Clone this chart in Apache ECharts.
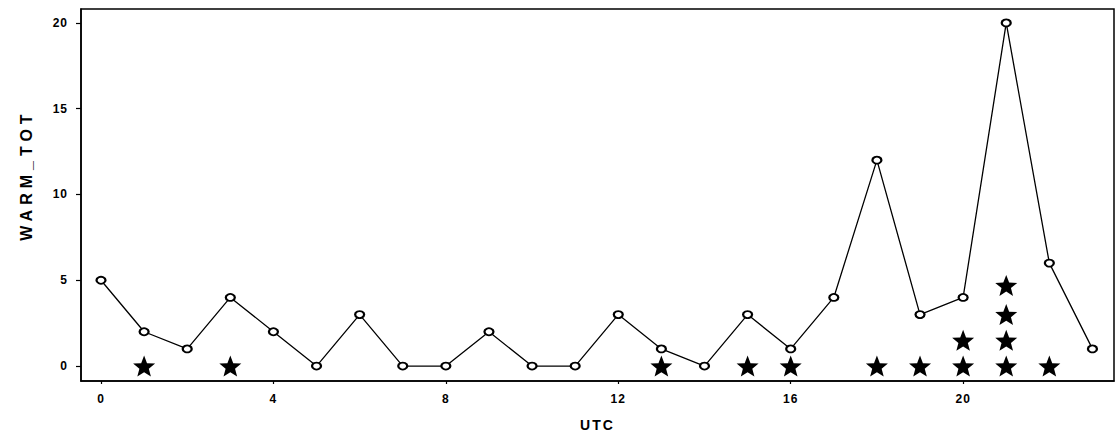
<!DOCTYPE html>
<html>
<head>
<meta charset="utf-8">
<script src="https://cdn.jsdelivr.net/npm/echarts@6/dist/echarts.min.js"></script>
<style>
  html, body { margin: 0; padding: 0; background: #fff; }
  #chart { width: 1117px; height: 437px; }
</style>
</head>
<body>
<div id="chart"></div>
<script>
// hourly totals
const hours = [0, 1, 2, 3, 4, 5, 6, 7, 8, 9, 10, 11, 12, 13, 14, 15, 16, 17, 18, 19, 20, 21, 22, 23];
const warmTot = [5, 2, 1, 4, 2, 0, 3, 0, 0, 2, 0, 0, 3, 1, 0, 3, 1, 4, 12, 3, 4, 20, 6, 1];

// star markers (hour, level)
const starHours = [1, 3, 13, 15, 16, 18, 19, 20, 20, 21, 21, 21, 21, 22];
const starLevels = [0, 0, 0, 0, 0, 0, 0, 0, 1.5, 0, 1.5, 3, 4.7, 0];

// tick labels
const xTicks = [0, 4, 8, 12, 16, 20];
const yTicks = [0, 5, 10, 15, 20];

const starPath = 'path://M50,0L62.6,32.6L97.6,34.5L70.4,56.6L79.4,90.5L50,71.5L20.6,90.5L29.6,56.6L2.4,34.5L37.4,32.6Z';
const FONT = 'Liberation Sans, Arial, sans-serif';

const chart = echarts.init(document.getElementById('chart'), null, { renderer: 'svg' });

const option = {
  animation: false,
  backgroundColor: '#fff',
  grid: {
    left: 81,
    right: 3,
    top: 9,
    bottom: 55,
    show: true,
    borderColor: '#000',
    borderWidth: 1.5
  },
  xAxis: {
    type: 'value',
    min: -0.464,
    max: 23.5,
    name: 'UTC',
    nameLocation: 'middle',
    nameGap: 37,
    nameTextStyle: { color: '#000', fontFamily: FONT, fontWeight: 'bold', fontSize: 14 },
    axisLine: { show: true, onZero: false, lineStyle: { color: '#000', width: 1.5 } },
    axisTick: { show: true, length: 3, customValues: xTicks, lineStyle: { color: '#000', width: 1.2 } },
    axisLabel: { customValues: xTicks, margin: 12, color: '#000', fontFamily: FONT, fontWeight: 'bold', fontSize: 12 },
    splitLine: { show: false }
  },
  yAxis: {
    type: 'value',
    min: -0.87,
    max: 20.81,
    name: 'WARM_TOT',
    nameLocation: 'middle',
    nameRotate: 90,
    nameGap: 47,
    nameTextStyle: { color: '#000', fontFamily: FONT, fontWeight: 'bold', fontSize: 16, padding: [0, 0, 0, 40] },
    axisLine: { show: true, onZero: false, lineStyle: { color: '#000', width: 1.5 } },
    axisTick: { show: true, length: 5, customValues: yTicks, lineStyle: { color: '#000', width: 1.2 } },
    axisLabel: { customValues: yTicks, margin: 13, color: '#000', fontFamily: FONT, fontWeight: 'bold', fontSize: 12 },
    splitLine: { show: false }
  },
  series: [
    {
      type: 'line',
      data: hours.map((h, i) => [h, warmTot[i]]),
      symbol: 'emptyCircle',
      symbolSize: [9, 7],
      lineStyle: { color: '#000', width: 1.3 },
      itemStyle: { color: '#000', borderColor: '#000', borderWidth: 1.5 },
      z: 3
    },
    {
      type: 'scatter',
      data: starHours.map((h, i) => [h, starLevels[i]]),
      symbol: starPath,
      symbolSize: [22, 21],
      itemStyle: { color: '#000', opacity: 1 },
      z: 2
    }
  ]
};

chart.setOption(option);

// spread out letters like the original print
function spreadLetters() {
  document.querySelectorAll('#chart svg text').forEach(t => {
    const s = t.textContent;
    let sp = '1px';
    if (s === 'WARM_TOT') sp = '5px';
    else if (s === 'UTC') sp = '2px';
    t.setAttribute('letter-spacing', sp);
    t.style.letterSpacing = sp;
  });
}
chart.getZr().flush();
spreadLetters();
chart.on('finished', spreadLetters);
setTimeout(spreadLetters, 50);
</script>
</body>
</html>
